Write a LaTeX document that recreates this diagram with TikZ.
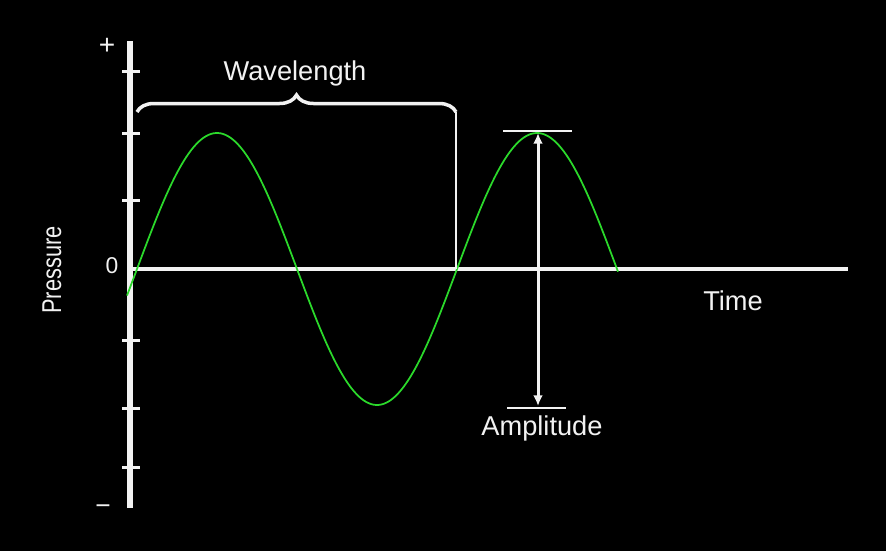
\documentclass[tikz,border=0pt]{standalone}
\usepackage{fontspec}
\setmainfont{Liberation Sans}
\usepackage{graphicx}
\usetikzlibrary{arrows.meta,decorations.pathreplacing}
\definecolor{wavegreen}{HTML}{2BD92B}
\definecolor{axiswhite}{HTML}{F2F2F2}
\tikzset{
  axisline/.style={draw=axiswhite, line cap=butt},
  tickmark/.style={draw=axiswhite, line width=0.06cm},
  thinline/.style={draw=axiswhite, line width=0.04cm},
  wave/.style={draw=wavegreen, line width=0.035cm},
  lbl/.style={text=axiswhite, font=\fontsize{15.5}{18}\selectfont, inner sep=0pt},
  smalllbl/.style={text=axiswhite, font=\fontsize{13}{15}\selectfont, inner sep=0pt},
}

\begin{document}
\begin{tikzpicture}[x=0.02cm, y=-0.02cm]
    \fill[black] (0,0) rectangle (886,551);
    \useasboundingbox (0,0) rectangle (886,551);
    % axes
    \coordinate (ytop) at (130,41);
    \coordinate (ybot) at (130,508);
    \coordinate (origin) at (130,269);
    \coordinate (xend) at (848,269);
    \draw[axisline, line width=0.12cm] (ytop) -- (ybot);
    \draw[axisline, line width=0.08cm] (origin) -- (xend);
    \foreach \y in {71,133,200,340,408,467}
      \draw[tickmark] (122,\y) -- (140,\y);
    \node[smalllbl, font=\fontsize{16}{18}\selectfont] (plus) at (107,46) {+};
    \node[smalllbl, font=\fontsize{15}{17}\selectfont] (minus) at (103,510) {−};
    \node[smalllbl, anchor=base] (zero) at (112,273) {0};
    \node[lbl, rotate=90, anchor=base] (pressure) at (61,270) {\scalebox{0.8}[1]{Pressure}};
    \node[lbl, anchor=base] (time) at (733,310) {Time};
    % sound wave
    \draw[wave] plot[domain=127:618, samples=200] (\x, {269 - 136*sin(1.125*(\x-137))});
    % wavelength
    \coordinate (wlstart) at (137,112);
    \coordinate (wlend) at (456,112);
    \draw[axiswhite, line width=0.07cm, decorate, decoration={brace, amplitude=0.34cm}] (wlstart) -- (wlend);
    \draw[thinline] (wlend) -- (456,269);
    \node[lbl, anchor=base] (wavelength) at (295,80) {Wavelength};
    % amplitude
    \coordinate (amptop) at (538,133);
    \coordinate (ampbot) at (538,406);
    \draw[thinline] (503,131) -- (572,131);
    \draw[thinline] (507,408) -- (566,408);
    \draw[axiswhite, line width=0.06cm, {Latex[length=6pt,width=5.5pt]}-{Latex[length=6pt,width=5.5pt]}] (amptop) -- (ampbot);
    \node[lbl, anchor=base] (amplitude) at (542,435) {Amplitude};
\end{tikzpicture}
\end{document}
